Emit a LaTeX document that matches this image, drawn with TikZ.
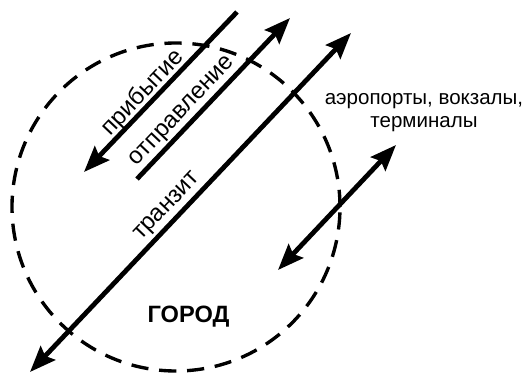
\documentclass[tikz,border=0pt]{standalone}
\usepackage{fontspec}
\setmainfont{Liberation Sans}
\usetikzlibrary{arrows.meta}

\tikzset{
	flow/.style={line width=3.4pt},
	tip/.style={-{Stealth[length=6.5mm, width=5mm, inset=1mm]}},
	bothtip/.style={{Stealth[length=6.5mm, width=5mm, inset=1mm]}-{Stealth[length=6.5mm, width=5mm, inset=1mm]}},
	city/.style={line width=2.4pt, dash pattern=on 4.3mm off 2.7mm},
	lbl/.style={font=\fontsize{14.6}{16.3}\selectfont, inner sep=0pt},
	along/.style={font=\fontsize{17}{20}\selectfont, inner sep=0pt, rotate=46.5},
}

\begin{document}
\begin{tikzpicture}[x=0.25mm, y=-0.25mm]
		\useasboundingbox (0,0) rectangle (526,376);
		\coordinate (O) at (176,207);
		\draw[city] (O) circle [radius=41mm];
		% flows
		\coordinate (A1) at (237,12);
		\coordinate (A2) at (84,172);
		\coordinate (D1) at (137,179);
		\coordinate (D2) at (290,18);
		\coordinate (T1) at (30,372);
		\coordinate (T2) at (351,33);
		\coordinate (L1) at (278,270);
		\coordinate (L2) at (396,145);
		\draw[flow, tip] (A1)--(A2);
		\draw[flow, tip] (D1)--(D2);
		\draw[flow, bothtip] (T1)--(T2);
		\draw[flow, bothtip] (L1)--(L2);
		% labels
		\node[along] (arr) at (143,93) {прибытие};
		\node[along] (dep) at (183,112) {отправление};
		\node[along] (trn) at (168,207) {транзит};
		\node[lbl, align=center] (term) at (424,113) {аэропорты, вокзалы,\\терминалы};
		\node[font=\fontsize{16.8}{20}\selectfont\bfseries, inner sep=0pt] (city) at (188.5,316.5) {ГОРОД};
	\end{tikzpicture}
\end{document}
